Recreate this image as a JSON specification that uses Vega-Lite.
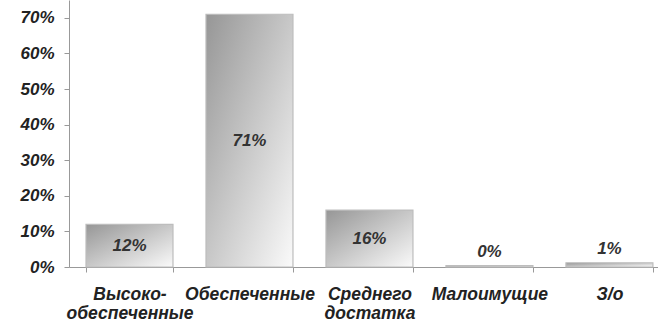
{
  "$schema": "https://vega.github.io/schema/vega-lite/v6.json",
  "autosize": "none",
  "padding": {"left": 69, "top": 0, "right": 0, "bottom": 56},
  "width": 589,
  "height": 267,
  "background": "white",
  "config": {
    "view": {"stroke": null},
    "axisY": {
      "title": null, "format": ".0%", "values": [0, 0.1, 0.2, 0.3, 0.4, 0.5, 0.6, 0.7],
      "grid": false, "labelFont": "Liberation Sans", "labelFontSize": 17, "labelFontWeight": "bold",
      "labelFontStyle": "italic", "labelColor": "#222", "labelPadding": 10, "labelOverlap": false,
      "domainColor": "#999", "tickColor": "#999", "tickSize": 5
    }
  },
  "data": {
    "values": [
      {"cat": "Высоко-\nобеспеченные", "v": 0.12, "label": "12%"},
      {"cat": "Обеспеченные", "v": 0.71, "label": "71%"},
      {"cat": "Среднего\nдостатка", "v": 0.16, "label": "16%"},
      {"cat": "Малоимущие", "v": 0.004, "label": "0%"},
      {"cat": "З/о", "v": 0.012, "label": "1%"}
    ]
  },
  "transform": [{"calculate": "datum.v / 2", "as": "mid"}],
  "encoding": {
    "x": {
      "field": "cat", "type": "nominal", "sort": null,
      "scale": {"paddingInner": 0.275, "paddingOuter": 0.092, "align": 0.77},
      "axis": {
        "title": null, "labelAngle": 0, "tickBand": "extent",
        "labelExpr": "split(datum.label, '\\n')",
        "labelFont": "Liberation Sans", "labelFontSize": 17.5, "labelFontWeight": "bold", "labelFontStyle": "italic",
        "labelColor": "#222", "labelPadding": 13, "labelLineHeight": 19, "labelOverlap": false,
        "domainColor": "#999", "tickColor": "#999", "tickSize": 5, "labelBaseline": "top"
      }
    }
  },
  "layer": [
    {
      "mark": {
        "type": "bar", "stroke": "#bdbdbd", "strokeWidth": 1.2,
        "color": {
          "gradient": "linear", "x1": 0, "y1": 0, "x2": 1, "y2": 1,
          "stops": [{"offset": 0, "color": "#969696"}, {"offset": 1, "color": "#fafafa"}]
        }
      },
      "encoding": {
        "y": {
          "field": "v", "type": "quantitative",
          "scale": {"domain": [0, 0.75], "nice": false},
          "axis": {"values": [0, 0.1, 0.2, 0.3, 0.4, 0.5, 0.6, 0.7], "format": ".0%", "title": null}
        }
      }
    },
    {
      "transform": [{"filter": "datum.v >= 0.05"}],
      "mark": {"type": "text", "font": "Liberation Sans", "fontSize": 17, "fontWeight": "bold", "fontStyle": "italic", "color": "#333", "baseline": "middle"},
      "encoding": {
        "y": {"field": "mid", "type": "quantitative", "axis": {"values": [0, 0.1, 0.2, 0.3, 0.4, 0.5, 0.6, 0.7], "format": ".0%", "title": null}},
        "text": {"field": "label"}
      }
    },
    {
      "transform": [{"filter": "datum.v < 0.05"}],
      "mark": {"type": "text", "font": "Liberation Sans", "fontSize": 17, "fontWeight": "bold", "fontStyle": "italic", "color": "#333", "baseline": "bottom", "dy": -5},
      "encoding": {
        "y": {"field": "v", "type": "quantitative", "axis": {"values": [0, 0.1, 0.2, 0.3, 0.4, 0.5, 0.6, 0.7], "format": ".0%", "title": null}},
        "text": {"field": "label"}
      }
    }
  ]
}
